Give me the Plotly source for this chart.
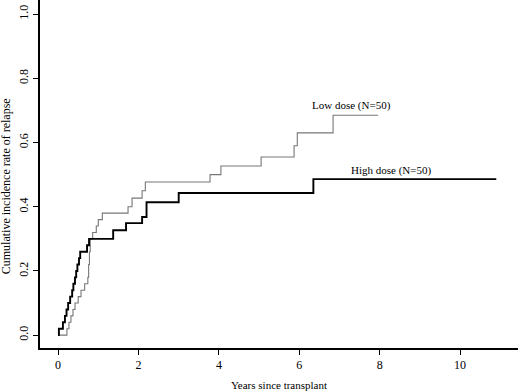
import plotly.graph_objects as go

# High dose (N=50) step curve: times (years) and cumulative incidence
high_t = [0.0, 0.02, 0.12, 0.17, 0.21, 0.25, 0.30, 0.35, 0.38, 0.42, 0.45, 0.48, 0.52, 0.55,
          0.72, 0.77, 1.37, 1.69, 2.09, 2.20, 3.00, 6.35, 10.9]
high_y = [0.0, 0.02, 0.04, 0.06, 0.08, 0.10, 0.12, 0.14, 0.16, 0.18, 0.20, 0.22, 0.24, 0.26,
          0.28, 0.30, 0.327, 0.349, 0.368, 0.414, 0.443, 0.486, 0.486]

# Low dose (N=50)
low_t = [0.0, 0.22, 0.27, 0.32, 0.37, 0.42, 0.50, 0.57, 0.66, 0.74, 0.76, 0.78, 0.80, 0.86,
         0.95, 1.00, 1.10, 1.74, 1.84, 2.09, 2.17, 3.78, 4.05, 5.05, 5.87, 5.95, 6.84, 7.96]
low_y = [0.0, 0.02, 0.04, 0.06, 0.08, 0.10, 0.12, 0.14, 0.16, 0.18, 0.22, 0.26, 0.30, 0.32,
         0.34, 0.36, 0.38, 0.40, 0.427, 0.45, 0.477, 0.50, 0.527, 0.555, 0.59, 0.63, 0.685, 0.685]

x_ticks = [0, 2, 4, 6, 8, 10]
y_ticks = [0.0, 0.2, 0.4, 0.6, 0.8, 1.0]
y_tick_labels = ["0.0", "0.2", "0.4", "0.6", "0.8", "1.0"]

FONT = "Liberation Serif"

fig = go.Figure()
fig.add_trace(go.Scatter(x=low_t, y=low_y, mode="lines", line_shape="hv",
                         line=dict(color="#777777", width=1.1), name="Low dose (N=50)"))
fig.add_trace(go.Scatter(x=high_t, y=high_y, mode="lines", line_shape="hv",
                         line=dict(color="#000000", width=1.9), name="High dose (N=50)"))

fig.add_annotation(x=7.31, y=0.716, text="Low dose (N=50)", showarrow=False,
                   font=dict(family=FONT, size=11, color="#000"))
fig.add_annotation(x=8.28, y=0.514, text="High dose (N=50)", showarrow=False,
                   font=dict(family=FONT, size=11, color="#000"))

fig.add_annotation(xref="paper", yref="paper", x=0.5, y=-0.105, yanchor="middle",
                   borderpad=0,
                   text="Years since transplant", showarrow=False,
                   font=dict(family=FONT, size=11, color="#000"))
fig.add_annotation(xref="paper", yref="paper", x=-0.071, xanchor="center", y=0.465,
                   yanchor="middle", borderpad=0,
                   text="Cumulative incidence rate of relapse", showarrow=False, textangle=-90,
                   font=dict(family=FONT, size=12, color="#000"))

fig.update_layout(
    width=520, height=391,
    margin=dict(l=40, r=2, t=0, b=43),
    paper_bgcolor="white", plot_bgcolor="white",
    showlegend=False,
    font=dict(family=FONT, size=11, color="#000"),
    xaxis=dict(range=[-0.45, 11.44], tickvals=x_ticks, showgrid=False, zeroline=False,
               showline=True, linecolor="black", linewidth=1.5,
               tickfont=dict(size=12),
               ticks="outside", ticklen=5, tickcolor="black", tickwidth=1),
    yaxis=dict(range=[-0.04, 1.044], tickvals=y_ticks, ticktext=y_tick_labels,
               tickangle=-90, showgrid=False, zeroline=False,
               showline=True, linecolor="black", linewidth=1.5,
               tickfont=dict(size=12),
               ticks="outside", ticklen=5, tickcolor="black", tickwidth=1),
)

fig.write_html("out.html", config={"displayModeBar": False},
               post_script="document.body.style.margin='0';")
